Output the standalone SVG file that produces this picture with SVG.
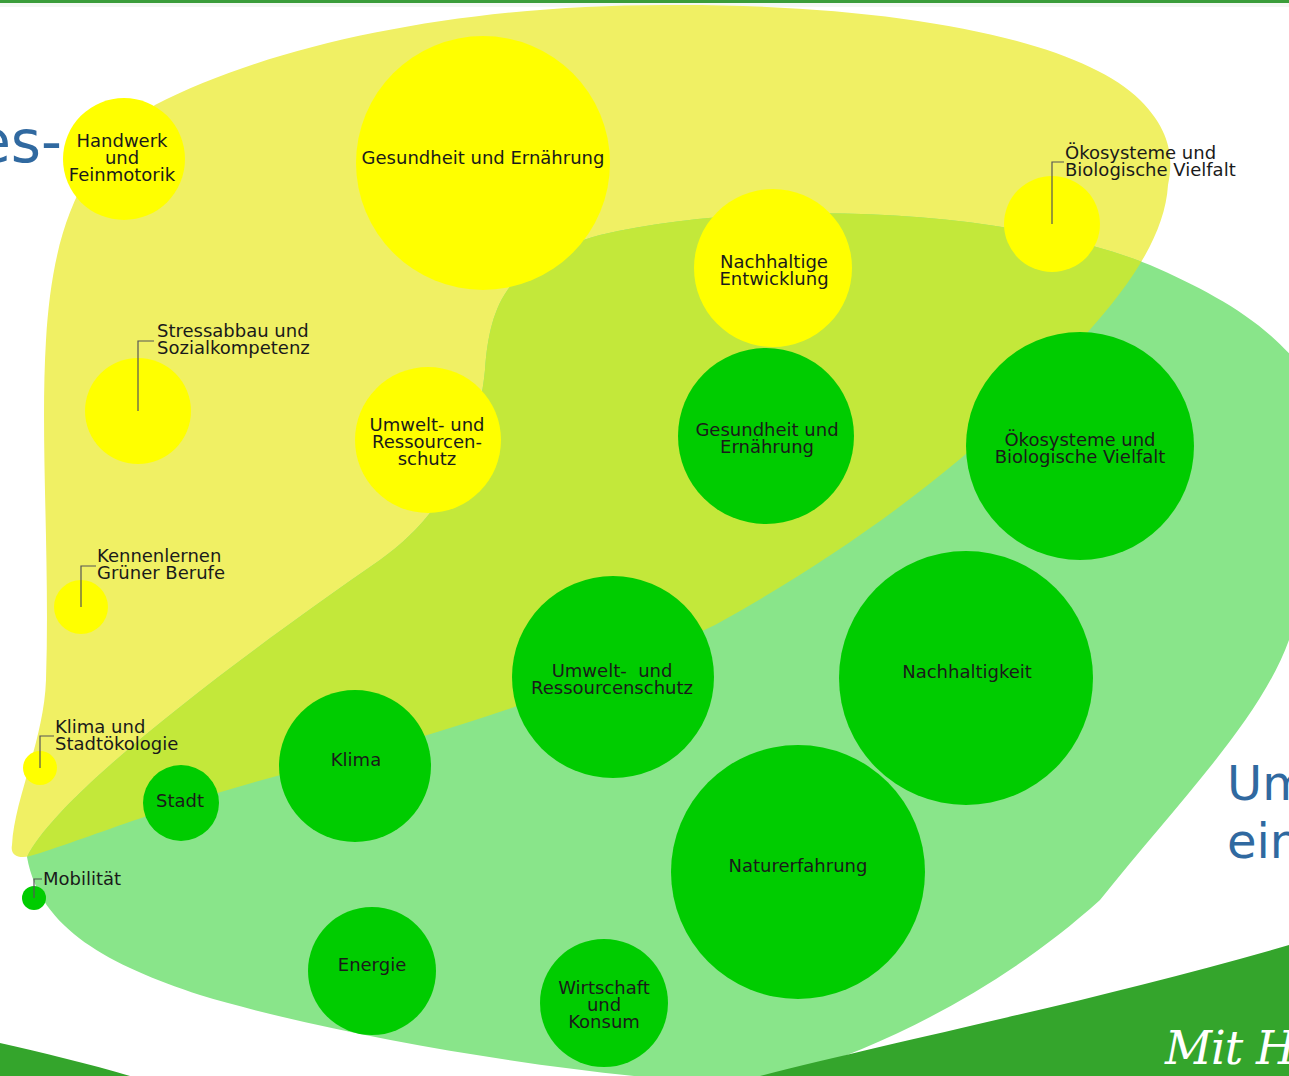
<svg xmlns="http://www.w3.org/2000/svg" width="1289" height="1076" viewBox="0 0 1289 1076">
<style>
.t{font-family:"DejaVu Sans","Verdana",sans-serif;font-size:18px;fill:#1a1a1a;text-anchor:middle}
.l{font-family:"DejaVu Sans","Verdana",sans-serif;font-size:18px;fill:#1a1a1a}
.y{fill:#ffff00}
.g{fill:#00cc00}
.ld{fill:none;stroke:#555;stroke-width:1.2}
.blue{font-family:"DejaVu Sans","Verdana",sans-serif;fill:#3069a0}
</style>
<defs>
<path id="yblob" d="M 12,845 C 14,800 44,740 46,680 C 50,560 40,440 46,340 C 52,240 75,160 155,105 C 280,40 480,3 680,5 C 900,5 1080,40 1140,100 C 1175,135 1172,165 1168,185 C 1165,235 1130,285 1087,333 C 1000,440 860,545 715,625 C 580,690 440,735 300,770 C 180,800 70,845 30,856 C 18,859 10,855 12,845 Z"/>
<path id="gblob" d="M 27,857 C 60,790 250,650 380,560 C 450,510 478,440 485,370 C 490,300 510,260 600,235 C 750,200 1000,205 1150,265 C 1230,300 1300,340 1330,420 C 1360,520 1330,580 1289,640 C 1260,720 1180,800 1100,900 C 1000,990 880,1050 760,1085 C 600,1080 350,1040 200,995 C 110,965 40,930 27,857 Z"/>
<clipPath id="yclip"><use href="#yblob"/></clipPath>
</defs>
<rect width="1289" height="1076" fill="#ffffff"/>
<rect x="0" y="0" width="1289" height="3" fill="#3a9d3a"/>
<rect x="0" y="3" width="1289" height="4" fill="#f4f8f4"/>

<g id="background">
<use href="#yblob" fill="#f0f064"/>
<use href="#gblob" fill="#89e58a"/>
<use href="#gblob" fill="#c3e83a" clip-path="url(#yclip)"/>
<path d="M 0,1043 C 40,1052 90,1064 130,1076 L 0,1076 Z" fill="#34a52c"/>
<path d="M 760,1076 C 900,1040 1100,1000 1289,945 L 1289,1076 Z" fill="#34a52c"/>
<text x="62" y="162" class="blue" font-size="58" text-anchor="end">es-</text>
<text x="1227" y="800" class="blue" font-size="48">Um</text>
<text x="1227" y="858" class="blue" font-size="48">ein</text>
<text x="1165" y="1064" font-family="'DejaVu Serif',serif" font-style="italic" font-size="46" fill="#ffffff" letter-spacing="-1">Mit H</text>
</g>

<g id="n-handwerk"><circle class="y" cx="124" cy="159" r="61"/>
<text class="t" x="122" y="147">Handwerk</text><text class="t" x="122" y="164">und</text><text class="t" x="122" y="181">Feinmotorik</text></g>
<g id="n-gesundheit-y"><circle class="y" cx="483" cy="163" r="127"/>
<text class="t" x="483" y="164">Gesundheit und Ernährung</text></g>
<g id="n-nachhaltige-entwicklung"><circle class="y" cx="773" cy="268" r="79"/>
<text class="t" x="774" y="268">Nachhaltige</text><text class="t" x="774" y="285">Entwicklung</text></g>
<g id="n-oekosysteme-y"><circle class="y" cx="1052" cy="224" r="48"/>
<text class="l" x="1065" y="159">Ökosysteme und</text><text class="l" x="1065" y="176">Biologische Vielfalt</text></g>
<g id="n-stressabbau"><circle class="y" cx="138" cy="411" r="53"/>
<text class="l" x="157" y="337">Stressabbau und</text><text class="l" x="157" y="354">Sozialkompetenz</text></g>
<g id="n-umwelt-y"><circle class="y" cx="428" cy="440" r="73"/>
<text class="t" x="427" y="431">Umwelt- und</text><text class="t" x="427" y="448">Ressourcen-</text><text class="t" x="427" y="465">schutz</text></g>
<g id="n-kennenlernen"><circle class="y" cx="81" cy="607" r="27"/>
<text class="l" x="97" y="562">Kennenlernen</text><text class="l" x="97" y="579">Grüner Berufe</text></g>
<g id="n-klima-stadtoekologie"><circle class="y" cx="40" cy="768" r="17"/>
<text class="l" x="55" y="733">Klima und</text><text class="l" x="55" y="750">Stadtökologie</text></g>

<g id="n-gesundheit-g"><circle class="g" cx="766" cy="436" r="88"/>
<text class="t" x="767" y="436">Gesundheit und</text><text class="t" x="767" y="453">Ernährung</text></g>
<g id="n-oekosysteme-g"><circle class="g" cx="1080" cy="446" r="114"/>
<text class="t" x="1080" y="446">Ökosysteme und</text><text class="t" x="1080" y="463">Biologische Vielfalt</text></g>
<g id="n-umwelt-g"><circle class="g" cx="613" cy="677" r="101"/>
<text class="t" x="612" y="677" xml:space="preserve">Umwelt-  und</text><text class="t" x="612" y="694">Ressourcenschutz</text></g>
<g id="n-nachhaltigkeit"><circle class="g" cx="966" cy="678" r="127"/>
<text class="t" x="967" y="678">Nachhaltigkeit</text></g>
<g id="n-klima"><circle class="g" cx="355" cy="766" r="76"/>
<text class="t" x="356" y="766">Klima</text></g>
<g id="n-stadt"><circle class="g" cx="181" cy="803" r="38"/>
<text class="t" x="180" y="807">Stadt</text></g>
<g id="n-naturerfahrung"><circle class="g" cx="798" cy="872" r="127"/>
<text class="t" x="798" y="872">Naturerfahrung</text></g>
<g id="n-energie"><circle class="g" cx="372" cy="971" r="64"/>
<text class="t" x="372" y="971">Energie</text></g>
<g id="n-wirtschaft"><circle class="g" cx="604" cy="1003" r="64"/>
<text class="t" x="604" y="994">Wirtschaft</text><text class="t" x="604" y="1011">und</text><text class="t" x="604" y="1028">Konsum</text></g>
<g id="n-mobilitaet"><circle class="g" cx="34" cy="898" r="12"/>
<text class="l" x="43" y="885">Mobilität</text></g>

<g id="connectors">
<path class="ld" d="M1052,224 V162 H1064"/>
<path class="ld" d="M138,411 V341 H154"/>
<path class="ld" d="M81,607 V566 H96"/>
<path class="ld" d="M40,768 V736 H54"/>
<path class="ld" d="M34,898 V879 H42"/>
</g>
</svg>
